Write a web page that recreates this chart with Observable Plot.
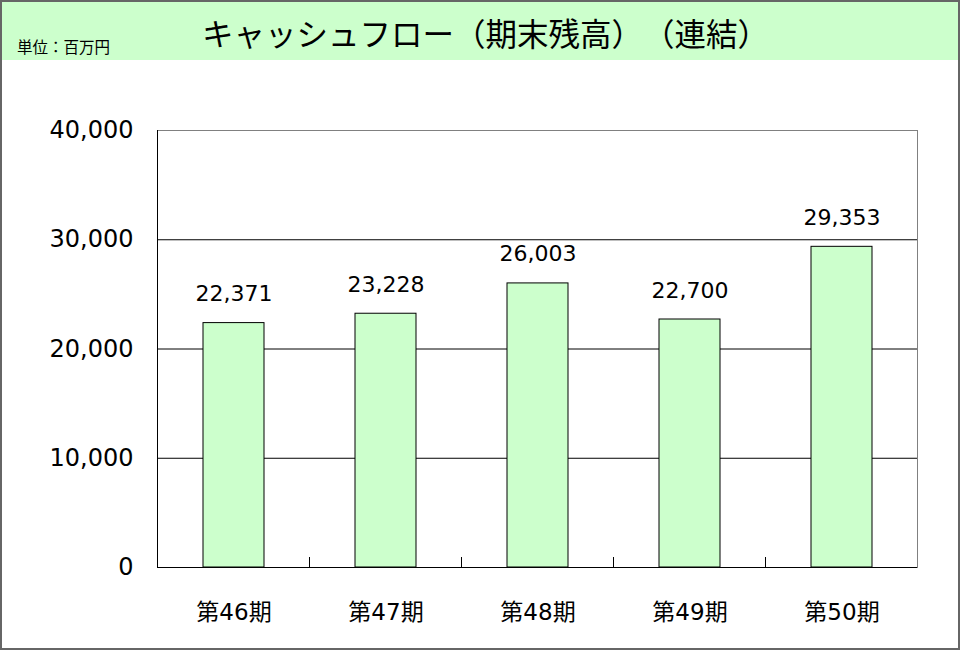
<!DOCTYPE html>
<html>
<head>
<meta charset="utf-8">
<script src="https://cdn.jsdelivr.net/npm/d3@7"></script>
<script src="https://cdn.jsdelivr.net/npm/@observablehq/plot@0.6"></script>
<style>
  html, body { margin: 0; padding: 0; background: white; }
  #wrap { position: relative; width: 960px; height: 650px; border: 2px solid #666; box-sizing: border-box; overflow: hidden; background: white; }
  #header { position: relative; height: 58px; background: #ccffcc; }
  #title { position: absolute; left: 200px; top: 12px; font-family: "Noto Sans CJK JP", sans-serif; font-size: 31.5px; line-height: 36px; color: #000; white-space: nowrap; text-spacing-trim: space-all; font-kerning: none; font-feature-settings: "kern" 0, "chws" 0, "halt" 0, "palt" 0; }
  #unit { position: absolute; left: 15px; top: 34px; font-family: "Noto Sans CJK JP", sans-serif; font-size: 15.5px; line-height: 20px; color: #000; white-space: nowrap; text-spacing-trim: space-all; }
  #chart svg { display: block; }
</style>
</head>
<body>
<div id="wrap">
  <div id="header">
    <div id="unit">単位：百万円</div>
    <div id="title">キャッシュフロー（期末残高）（連結）</div>
  </div>
  <div id="chart"></div>
</div>
<script>
const periods = ["第46期", "第47期", "第48期", "第49期", "第50期"];
const values = [22371, 23228, 26003, 22700, 29353];
const yTicks = [0, 10000, 20000, 30000, 40000];
const gridValues = [10000, 20000, 30000];
const yDomain = [0, 40000];

const data = periods.map((p, i) => ({period: p, value: values[i]}));
const fmt = d3.format(",");

// category-boundary tick marks on the bottom axis (pointing inward)
function boundaryTicks(index, scales, values, dimensions) {
  const x = scales.x;
  const step = x.step(), bw = x.bandwidth();
  const yb = dimensions.height - dimensions.marginBottom;
  const g = d3.create("svg:g");
  periods.slice(0, -1).forEach(p => {
    const bx = x(p) + bw / 2 + step / 2;
    g.append("line")
      .attr("x1", bx).attr("x2", bx)
      .attr("y1", yb).attr("y2", yb - 10)
      .attr("stroke", "black");
  });
  return g.node();
}

const chart = Plot.plot({
  width: 956,
  height: 588,
  marginLeft: 155,
  marginRight: 41,
  marginTop: 70,
  marginBottom: 81,
  style: {fontFamily: "'DejaVu Sans', 'Noto Sans CJK JP', sans-serif", color: "black", background: "white", overflow: "visible"},
  x: {domain: periods, paddingInner: 0.6, paddingOuter: 0.3, label: null},
  y: {domain: yDomain, label: null},
  marks: [
    Plot.gridY(gridValues, {stroke: "black", strokeOpacity: 1}),
    Plot.frame({stroke: "#808080"}),
    Plot.barY(data, {x: "period", y: "value", fill: "#ccffcc", stroke: "black", strokeWidth: 1}),
    Plot.ruleY([0], {stroke: "black"}),
    Plot.frame({anchor: "left", stroke: "black"}),
    boundaryTicks,
    Plot.text(data, {x: "period", y: "value", text: d => fmt(d.value), dy: -22, lineAnchor: "bottom", fontSize: 22, fill: "black"}),
    Plot.axisY({ticks: yTicks, tickSize: 0, tickPadding: 24, fontSize: 24, tickFormat: fmt, label: null}),
    Plot.axisX({tickSize: 0, tickPadding: 36, fontSize: 23, label: null})
  ]
});
document.getElementById("chart").appendChild(chart);
</script>
</body>
</html>
